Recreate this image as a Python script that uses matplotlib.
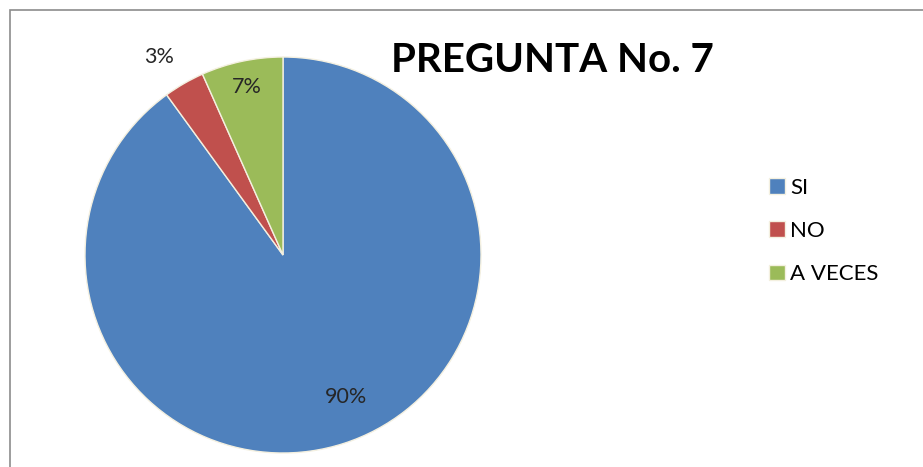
import numpy as np
import matplotlib.pyplot as plt
from matplotlib.patches import Rectangle

# datos de la pregunta 7
categorias = ['SI', 'NO', 'A VECES']
valores = [27, 1, 2]
etiquetas = ['90%', '3%', '7%']
colores = ['#4F81BD', '#C0504D', '#9BBB59']
dist_etiqueta = [0.785, 1.18, 0.87]
giro_etiqueta = [6, 2, 0]

plt.rcParams['font.family'] = ['Lato', 'DejaVu Sans']

fig = plt.figure(figsize=(9.23, 4.67), dpi=100)
fig.patch.set_facecolor('white')

# marco del grafico
fig.patches.append(Rectangle((10 / 923, -0.1), 1.2, 1.1 - 10 / 467,
                             transform=fig.transFigure, fill=False,
                             edgecolor='#8c8c8c', linewidth=1.2))

ax = fig.add_axes([(283 - 198) / 923, (467 - 255 - 198) / 467, 396 / 923, 396 / 467])
wedges, _ = ax.pie(valores, colors=colores, startangle=90, counterclock=False,
                   radius=1, wedgeprops=dict(edgecolor='#f4f0e0', linewidth=1))
ax.set_xlim(-1, 1)
ax.set_ylim(-1, 1)
ax.set_aspect('equal')
ax.axis('off')

for w, lab, d, g in zip(wedges, etiquetas, dist_etiqueta, giro_etiqueta):
    ang = np.deg2rad((w.theta1 + w.theta2) / 2 + g)
    ax.text(d * np.cos(ang), d * np.sin(ang), lab, ha='center', va='center',
            fontsize=15.5, color='#262626', clip_on=False)

fig.text(552 / 923, 1 - 60 / 467, 'PREGUNTA No. 7', ha='center', va='center',
         fontsize=29, fontweight='bold', color='black')

ax.legend(wedges, categorias, loc='center left', bbox_to_anchor=(749 / 923, 1 - 231 / 467),
          bbox_transform=fig.transFigure, frameon=False, fontsize=16,
          handlelength=0.7, handleheight=0.7, handletextpad=0.25, labelspacing=1.05)

fig.savefig('out.png', dpi=100, facecolor='white')
